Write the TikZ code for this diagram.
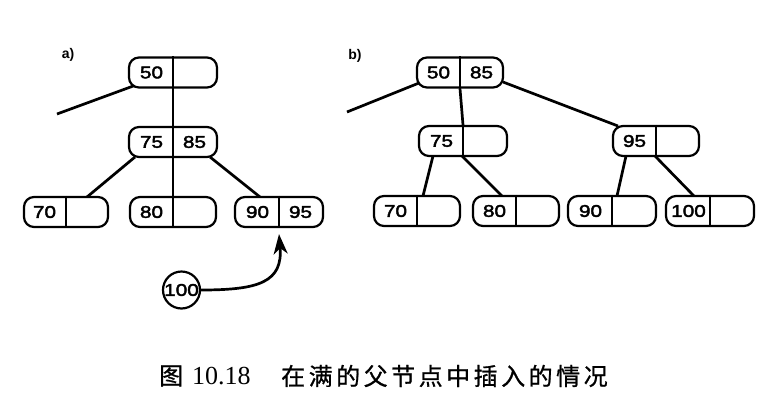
\documentclass[tikz,border=0pt]{standalone}
\usepackage{fontspec}
\setmainfont{Liberation Sans}
\newfontfamily\numfont[FakeStretch=1.22,FakeBold=2.5]{Liberation Sans}
\newfontfamily\cjkfont[FakeBold=0.8]{Noto Sans CJK SC}
\newfontfamily\capseriffont{Liberation Serif}
\usetikzlibrary{arrows.meta,backgrounds}
\tikzset{
  bx/.style={draw, line width=2.2pt, rounded corners=10pt, minimum height=30pt, inner sep=0pt, fill=white},
  dv/.style={line width=1.7pt},
  num/.style={font=\numfont\fontsize{17}{18}\selectfont, inner sep=0pt},
  conn/.style={line width=2.7pt},
  circ/.style={draw, circle, line width=2.2pt, minimum size=37pt, inner sep=0pt, fill=white},
  lbl/.style={font=\bfseries\fontsize{14}{16}\selectfont, inner sep=0pt},
  arr/.style={line width=2.7pt, -{Stealth[length=20pt,width=14pt,inset=6pt]}},
  captxt/.style={inner sep=0pt, anchor=west},
}
\newcommand\bnode[6]{%
  \node[bx, minimum width=#4pt] (#1) at (#2,#3) {};
  \draw[dv] (#1.north) -- (#1.south);
  \node[num] (#1l) at ([xshift=-21.5pt]#1.center) {#5};
  \node[num] (#1r) at ([xshift=21.5pt]#1.center) {#6};
}
\begin{document}
\begin{tikzpicture}[x=1pt,y=-1pt]
\useasboundingbox (0,0) rectangle (763,402);

% labels
\node[lbl] (la) at (68,55) {a)};
\node[lbl] (lb) at (355,56) {b)};

% tree a
\bnode{a50}{173}{72.5}{88}{50}{}
\bnode{a7585}{173}{142}{88}{75}{85}
\bnode{a70}{66}{212}{84}{70}{}
\bnode{a80}{173}{212}{86}{80}{}
\bnode{a9095}{279}{212}{88}{90}{95}
\node[circ] (a100) at (181.5,290) {};
\node[num] (a100t) at (a100.center) {100};
\coordinate (fa) at (57,114);

% tree b
\bnode{b5085}{460}{72.5}{86}{50}{85}
\bnode{b75}{463}{141}{88}{75}{}
\bnode{b95}{656}{141}{86}{95}{}
\bnode{b70}{417}{211}{86}{70}{}
\bnode{b80}{516}{211}{86}{80}{}
\bnode{b90}{612}{211}{88}{90}{}
\bnode{b100}{710}{211}{88}{100}{}
\coordinate (fb) at (347,112);

\begin{scope}[on background layer]
  \fill[white] (0,0) rectangle (763,402);
  % a connectors
  \draw[conn] (fa) -- ([shift={(-37,12.5)}]a50.center);
  \draw[conn] (a50.south) -- (a7585.north);
  \draw[conn] (a7585.south) -- (a80.north);
  \draw[conn] ([shift={(-38,15)}]a7585.center) -- ([shift={(21,-15)}]a70.center);
  \draw[conn] ([shift={(37,15)}]a7585.center) -- ([shift={(-19,-15)}]a9095.center);
  % b connectors
  \draw[conn] (fb) -- ([shift={(-41,10.5)}]b5085.center);
  \draw[conn] ([shift={(43,9.5)}]b5085.center) -- ([shift={(-38,-15)}]b95.center);
  \draw[conn] (b5085.south) -- (b75.north);
  \draw[conn] ([shift={(-30,15)}]b75.center) -- ([shift={(6,-15)}]b70.center);
  \draw[conn] ([shift={(-1,15)}]b75.center) -- ([shift={(-14,-15)}]b80.center);
  \draw[conn] ([shift={(-30,15)}]b95.center) -- ([shift={(5,-15)}]b90.center);
  \draw[conn] ([shift={(-1,15)}]b95.center) -- ([shift={(-16,-15)}]b100.center);
\end{scope}

% insertion arrow
\draw[arr] (a100.east) .. controls +(58,0) and +(4,48) .. ([yshift=-6pt]a9095.south);

% caption
\node[captxt, font=\cjkfont\fontsize{24}{26}\selectfont] (cap1) at (159,376) {图};
\node[captxt, font=\capseriffont\fontsize{26}{28}\selectfont] (cap2) at (192,376) {10.18};
\node[captxt, font=\cjkfont\fontsize{24}{26}\selectfont] (cap3) at (281,376) {在\kern3.5pt 满\kern3.5pt 的\kern3.5pt 父\kern3.5pt 节\kern3.5pt 点\kern3.5pt 中\kern3.5pt 插\kern3.5pt 入\kern3.5pt 的\kern3.5pt 情\kern3.5pt 况};
\end{tikzpicture}
\end{document}
